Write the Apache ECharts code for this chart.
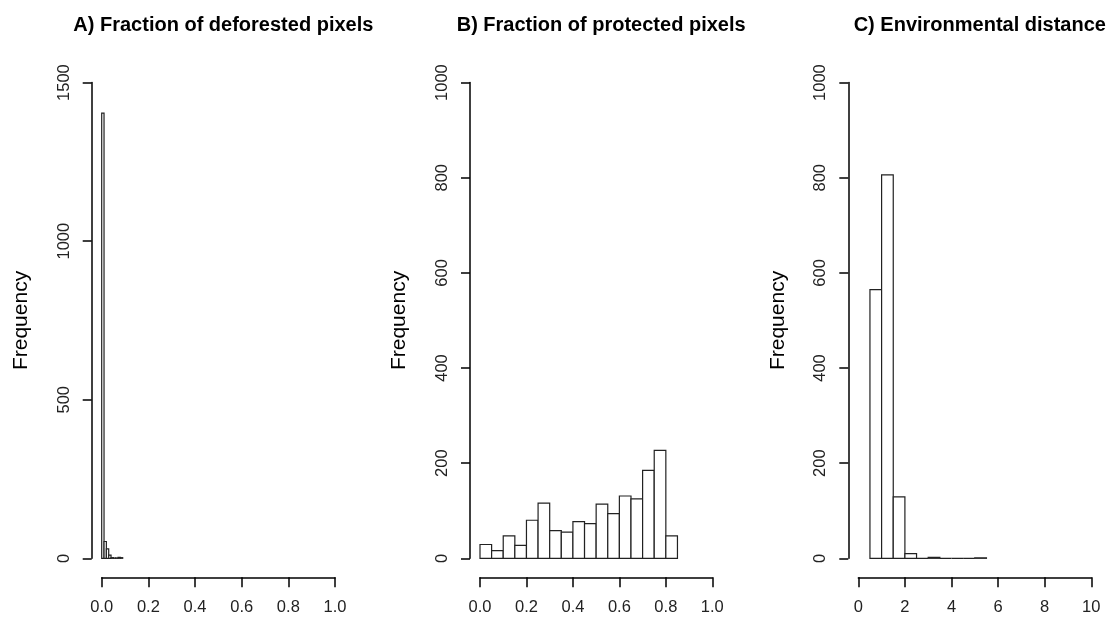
<!DOCTYPE html>
<html>
<head>
<meta charset="utf-8">
<script src="https://cdn.jsdelivr.net/npm/echarts@6/dist/echarts.min.js"></script>
<style>
  html, body { margin: 0; padding: 0; background: #fff; }
  #chart { width: 1109px; height: 618px; }
</style>
</head>
<body>
<div id="chart"></div>
<script>
// histogram bins: left edges, bin width and counts per panel
const titles = ['A) Fraction of deforested pixels', 'B) Fraction of protected pixels', 'C) Environmental distance']

const deforestBreaks = [0, 0.01, 0.02, 0.03, 0.04, 0.05, 0.06, 0.07, 0.08, 0.09]
const deforestCounts = [1404, 53, 30, 10, 2, 1, 1, 3, 2]

const protectedBreaks = [0, 0.05, 0.1, 0.15, 0.2, 0.25, 0.3, 0.35, 0.4, 0.45, 0.5, 0.55, 0.6, 0.65, 0.7, 0.75, 0.8, 0.85]
const protectedCounts = [29, 16, 47, 27, 80, 116, 58, 55, 77, 73, 114, 94, 131, 125, 185, 227, 47]

const distanceBreaks = [0.5, 1, 1.5, 2, 2.5, 3, 3.5, 4, 4.5, 5, 5.5]
const distanceCounts = [565, 806, 129, 10, 0, 2, 0, 0, 0, 1]

const xRanges = [[0, 1, 0.2], [0, 1, 0.2], [0, 10, 2]]
const yRanges = [[0, 1500, 500], [0, 1000, 200], [0, 1000, 200]]

const font = '"Liberation Sans", Arial, sans-serif'

function toBins(breaks, counts) {
  return counts.map((c, i) => [breaks[i], breaks[i + 1], c])
}

const panels = [
  toBins(deforestBreaks, deforestCounts),
  toBins(protectedBreaks, protectedCounts),
  toBins(distanceBreaks, distanceCounts)
]

// plot regions, roughly where R put them
const lefts = [101.7, 480, 858.3]
const widths = [233.3, 232.3, 233]

const chart = echarts.init(document.getElementById('chart'))

chart.setOption({
  animation: false,
  backgroundColor: '#fff',
  title: titles.map((t, i) => ({
    text: t,
    left: lefts[i] + widths[i] / 2,
    top: 10,
    textAlign: 'center',
    textStyle: { fontFamily: font, fontSize: 20, fontWeight: 'bold', color: '#000' }
  })),
  grid: lefts.map((l, i) => ({
    left: l,
    width: widths[i],
    top: 82.6,
    bottom: 59.7
  })),
  xAxis: xRanges.map((r, i) => ({
    type: 'value',
    gridIndex: i,
    min: r[0],
    max: r[1],
    interval: r[2],
    offset: 19,
    axisLine: { show: true, onZero: false, lineStyle: { color: '#000', width: 1.5 } },
    axisTick: { show: true, length: 10, lineStyle: { color: '#000', width: 1.5 } },
    splitLine: { show: false },
    axisLabel: {
      margin: 22,
      fontFamily: font,
      fontSize: 16.5,
      color: '#222',
      formatter: v => (i < 2 ? v.toFixed(1) : String(v))
    }
  })),
  yAxis: yRanges.map((r, i) => ({
    type: 'value',
    gridIndex: i,
    min: r[0],
    max: r[1],
    interval: r[2],
    offset: 10,
    name: 'Frequency',
    nameLocation: 'middle',
    nameGap: 60,
    nameTextStyle: { fontFamily: font, fontSize: 21, color: '#000' },
    axisLine: { show: true, onZero: false, lineStyle: { color: '#000', width: 1.5 } },
    axisTick: { show: true, length: 9, lineStyle: { color: '#000', width: 1.5 } },
    splitLine: { show: false },
    axisLabel: {
      rotate: 90,
      margin: 19,
      fontFamily: font,
      fontSize: 16.5,
      color: '#222',
      formatter: v => String(v)
    }
  })),
  series: panels.map((bins, i) => ({
    type: 'custom',
    xAxisIndex: i,
    yAxisIndex: i,
    encode: { x: [0, 1], y: 2 },
    data: bins,
    renderItem(params, api) {
      const p0 = api.coord([api.value(0), 0])
      const p1 = api.coord([api.value(1), api.value(2)])
      return {
        type: 'rect',
        shape: { x: p0[0], y: p1[1], width: p1[0] - p0[0], height: p0[1] - p1[1] },
        style: { fill: '#fff', stroke: '#222', lineWidth: 1.2 }
      }
    }
  }))
})
</script>
</body>
</html>
